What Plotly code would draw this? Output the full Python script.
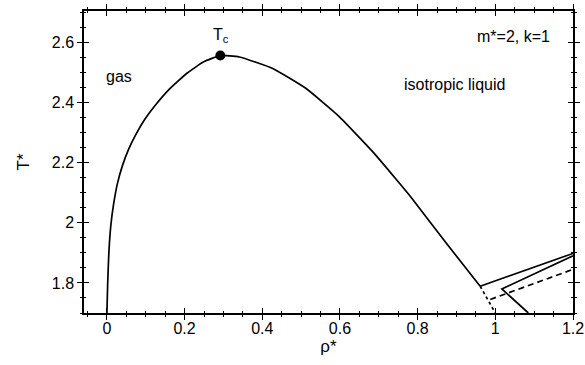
import plotly.graph_objects as go

# Coexistence (gas / isotropic liquid) curve
coex_rho = [0.0, 0.002, 0.005, 0.010, 0.017, 0.027, 0.040, 0.056, 0.075, 0.098, 0.124,
            0.159, 0.206, 0.249, 0.292, 0.341, 0.427, 0.512, 0.598, 0.683, 0.743, 0.786,
            0.872, 0.961]
coex_T = [1.70, 1.80, 1.90, 1.99, 2.06, 2.13, 2.19, 2.245, 2.295, 2.345, 2.39,
          2.442, 2.497, 2.535, 2.556, 2.551, 2.513, 2.447, 2.353, 2.238, 2.147, 2.080,
          1.935, 1.789]
# dotted continuation of coexistence curve
ext_rho = [0.961, 1.0]
ext_T = [1.789, 1.70]
# other solid lines near the liquid side
lineA_rho = [0.961, 1.2]
lineA_T = [1.789, 1.898]
lineB_rho = [1.2, 1.017, 1.085]
lineB_T = [1.890, 1.780, 1.70]
# dashed line
dash_rho = [0.987, 1.2]
dash_T = [1.745, 1.845]
# critical point
tc_rho = [0.292]
tc_T = [2.556]

x_ticks = [0, 0.2, 0.4, 0.6, 0.8, 1, 1.2]
y_ticks = [1.8, 2, 2.2, 2.4, 2.6]

FONT = "Liberation Sans, Arial, Helvetica, sans-serif"
LW = 1.7

fig = go.Figure()
fig.add_trace(go.Scatter(x=coex_rho, y=coex_T, mode="lines",
                         line=dict(color="black", width=LW, shape="spline", smoothing=0.4)))
fig.add_trace(go.Scatter(x=ext_rho, y=ext_T, mode="lines",
                         line=dict(color="black", width=LW, dash="3px,3px")))
fig.add_trace(go.Scatter(x=lineA_rho, y=lineA_T, mode="lines",
                         line=dict(color="black", width=LW)))
fig.add_trace(go.Scatter(x=lineB_rho, y=lineB_T, mode="lines",
                         line=dict(color="black", width=LW)))
fig.add_trace(go.Scatter(x=dash_rho, y=dash_T, mode="lines",
                         line=dict(color="black", width=LW, dash="6px,4px")))
fig.add_trace(go.Scatter(x=tc_rho, y=tc_T, mode="markers",
                         marker=dict(color="black", size=10)))
# invisible trace to anchor inside-tick overlay axes
fig.add_trace(go.Scatter(x=[0.5], y=[2.0], xaxis="x2", yaxis="y2", mode="markers",
                         marker=dict(opacity=0), hoverinfo="skip"))

fig.add_annotation(x=0.031, y=2.486, text="gas", showarrow=False,
                   font=dict(size=16, color="black", family=FONT))
fig.add_annotation(x=0.896, y=2.461, text="isotropic liquid", showarrow=False,
                   font=dict(size=16, color="black", family=FONT))
fig.add_annotation(x=1.047, y=2.619, text="m*=2, k=1", showarrow=False,
                   font=dict(size=16, color="black", family=FONT))
fig.add_annotation(x=0.295, y=2.624, text="T<sub>c</sub>", showarrow=False,
                   font=dict(size=16, color="black", family=FONT))

common = dict(showgrid=False, zeroline=False, showline=True, linecolor="black",
              linewidth=1.5, mirror="allticks", tickcolor="black", tickwidth=1.2,
              automargin=False, ticklabeloverflow="allow")

fig.update_layout(
    width=585, height=365,
    margin=dict(l=84, r=12, t=11, b=52),
    paper_bgcolor="white", plot_bgcolor="white",
    showlegend=False,
    font=dict(family=FONT, size=16, color="black"),
    xaxis=dict(range=[-0.059, 1.2], tickvals=x_ticks, ticks="outside", ticklen=5,
               ticklabelstandoff=-5,
               minor=dict(dtick=0.05, tick0=0, ticks="outside", ticklen=2, tickcolor="black"),
               title=dict(text="ρ*", standoff=0, font=dict(size=17)), **common),
    yaxis=dict(range=[1.7, 2.704], tickvals=y_ticks, ticks="outside", ticklen=5,
               minor=dict(dtick=0.05, tick0=1.7, ticks="outside", ticklen=2, tickcolor="black"),
               title=dict(text="T*", standoff=18, font=dict(size=17)), **common),
    xaxis2=dict(range=[-0.059, 1.2], tickvals=x_ticks, ticks="inside", ticklen=5,
                showticklabels=False, overlaying="x", anchor="y2",
                minor=dict(dtick=0.05, tick0=0, ticks="inside", ticklen=2, tickcolor="black"),
                **common),
    yaxis2=dict(range=[1.7, 2.704], tickvals=y_ticks, ticks="inside", ticklen=5,
                showticklabels=False, overlaying="y", anchor="x2",
                minor=dict(dtick=0.05, tick0=1.7, ticks="inside", ticklen=2, tickcolor="black"),
                **common),
)

# remove the page's default body margin so the figure fills the window exactly
fig.write_html("out.html",
               config={"displayModeBar": False},
               post_script="document.body.style.margin='0';document.body.style.overflow='hidden';")
